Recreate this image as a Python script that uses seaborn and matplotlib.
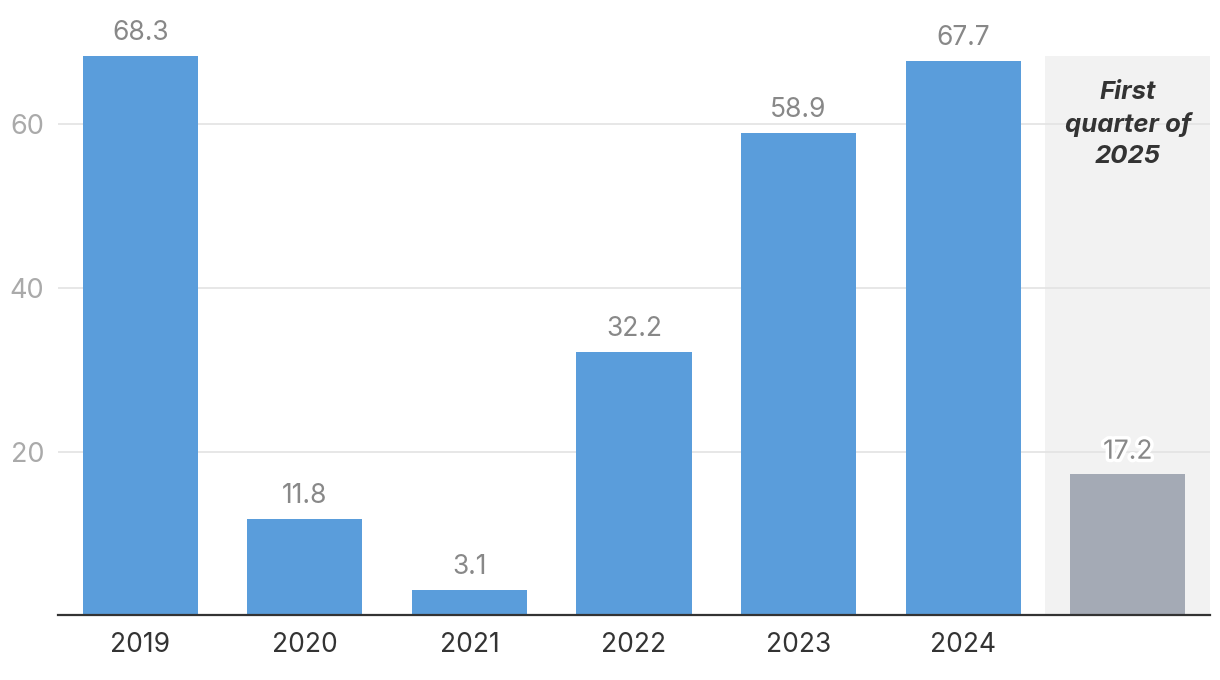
import pandas as pd
import matplotlib.pyplot as plt
import matplotlib.patheffects as pe
import seaborn as sns

periods = ['2019', '2020', '2021', '2022', '2023', '2024', 'Q1 2025']
tick_labels = ['2019', '2020', '2021', '2022', '2023', '2024', '']
values = [68.3, 11.8, 3.1, 32.2, 58.9, 67.7, 17.2]
kinds = ['year', 'year', 'year', 'year', 'year', 'year', 'quarter']
label_texts = ['68.3', '11.8', '3.1', '32.2', '58.9', '67.7', '17.2']

df = pd.DataFrame({'period': periods, 'value': values, 'kind': kinds})

sns.set_style('white')
plt.rcParams['font.family'] = ['Inter', 'DejaVu Sans']

fig = plt.figure(figsize=(12.2, 6.8), dpi=100)
ax = fig.add_axes([0.0475, 0.095, 0.9443, 0.823])

# shaded area for the partial year
ax.axvspan(5.5, 6.5, color='#f2f2f2', zorder=0, lw=0)

sns.barplot(data=df, x='period', y='value', hue='kind',
            palette={'year': '#5a9ddb', 'quarter': '#a4aab5'},
            width=0.7, dodge=False, legend=False, ax=ax, zorder=3,
            saturation=1, linewidth=0)

ax.set_xlim(-0.5, 6.5)
ax.set_ylim(0, 68.3)
ax.set_yticks([20, 40, 60])
ax.yaxis.grid(True, color='#e3e3e3', lw=1.2, zorder=1)
ax.set_axisbelow(True)
ax.set_xticks(range(len(periods)))
ax.set_xticklabels(tick_labels)
ax.tick_params(axis='x', labelsize=19, colors='#333333', length=0, pad=12)
ax.tick_params(axis='y', labelsize=19.5, colors='#aaaaaa', length=0, pad=10)
ax.set_xlabel('')
ax.set_ylabel('')
for s in ['top', 'right', 'left']:
    ax.spines[s].set_visible(False)
ax.spines['bottom'].set_color('#333333')
ax.spines['bottom'].set_linewidth(1.6)
ax.spines['bottom'].set_zorder(5)

for i, (v, t) in enumerate(zip(values, label_texts)):
    txt = ax.annotate(t, (i, v), xytext=(0, 7), textcoords='offset points',
                      ha='center', va='bottom', fontsize=19, color='#888888',
                      annotation_clip=False, zorder=6)
    if kinds[i] == 'quarter':
        txt.set_path_effects([pe.withStroke(linewidth=5, foreground='white')])

ax.text(6, 59.9, 'First\nquarter of\n2025', ha='center', va='center',
        fontsize=18.5, fontweight='bold', fontstyle='italic', color='#333333',
        linespacing=1.42, zorder=6)

fig.savefig('out.png', dpi=100)
